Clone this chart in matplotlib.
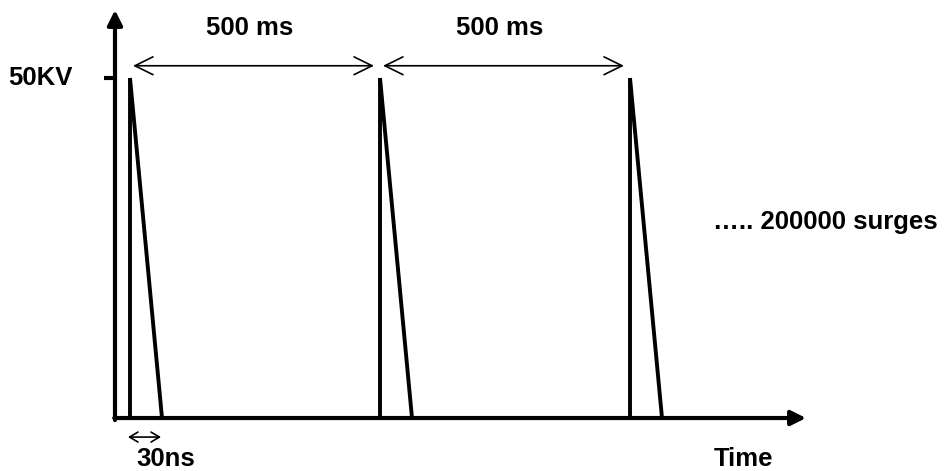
import matplotlib
matplotlib.use("Agg")
import matplotlib.pyplot as plt

# surge train (schematic): pulse start times in ms, peak voltage in kV
pulse_times = [0, 500, 1000]
peak_kv = 50
period_labels = ["500 ms", "500 ms"]
fall_draw = 64          # drawn width of the decay (not to scale, labelled 30ns)
peak_label = "50KV"
width_label = "30ns"
x_label = "Time"
count_label = "\u2026.. 200000 surges"

plt.rcParams['font.family'] = ['Liberation Sans', 'DejaVu Sans']
plt.rcParams['font.weight'] = 'bold'

fig = plt.figure(figsize=(9.46, 4.71), dpi=100)
ax = fig.add_axes([0, 0, 1, 1])
ax.set_xlim(-260, 1632)
ax.set_ylim(-7.79, 61.47)
ax.axis('off')

# axes with arrow heads
x0, y_top, x_end = -30, 60, 1352
head = dict(arrowstyle='-|>', color='k', lw=3, mutation_scale=22,
            shrinkA=0, shrinkB=0)
ax.annotate('', xy=(x0, y_top), xytext=(x0, -0.3), arrowprops=head)
ax.annotate('', xy=(x_end, 0), xytext=(x0 - 1.5, 0), arrowprops=head)

# tick at the peak level
ax.plot([x0 - 22, x0], [peak_kv, peak_kv], color='k', lw=3, solid_capstyle='butt')
ax.text(-180, peak_kv, peak_label, fontsize=18.5, ha='center', va='center')

# pulses
for t in pulse_times:
    ax.plot([t, t], [0, peak_kv], color='k', lw=2.8, solid_capstyle='butt')
    ax.plot([t, t + fall_draw], [peak_kv, 0], color='k', lw=2.8, solid_capstyle='butt')

# period arrows
arrow_y = 51.8
dbl = dict(arrowstyle='<->,head_length=0.65,head_width=0.32', color='k', lw=1.2,
           mutation_scale=20, shrinkA=0, shrinkB=0)
for a, b, lab in zip(pulse_times[:-1], pulse_times[1:], period_labels):
    ax.annotate('', xy=(a + 6, arrow_y), xytext=(b - 12, arrow_y), arrowprops=dbl)
    ax.text((a + b) / 2 - 10, 57.35, lab, fontsize=18.5, ha='center', va='center')

# pulse width marker
small = dict(arrowstyle='<->,head_length=0.6,head_width=0.36', color='k', lw=1.2,
             mutation_scale=10, shrinkA=0, shrinkB=0)
ax.annotate('', xy=(pulse_times[0] - 4, -2.8), xytext=(pulse_times[0] + fall_draw - 2, -2.8),
            arrowprops=small)
ax.text(72, -6.05, width_label, fontsize=18.5, ha='center', va='center')

ax.text(1226, -6.05, x_label, fontsize=18.5, ha='center', va='center')
ax.text(1166, 28.8, count_label, fontsize=18.5, ha='left', va='center')

fig.savefig('out.png', dpi=100)
